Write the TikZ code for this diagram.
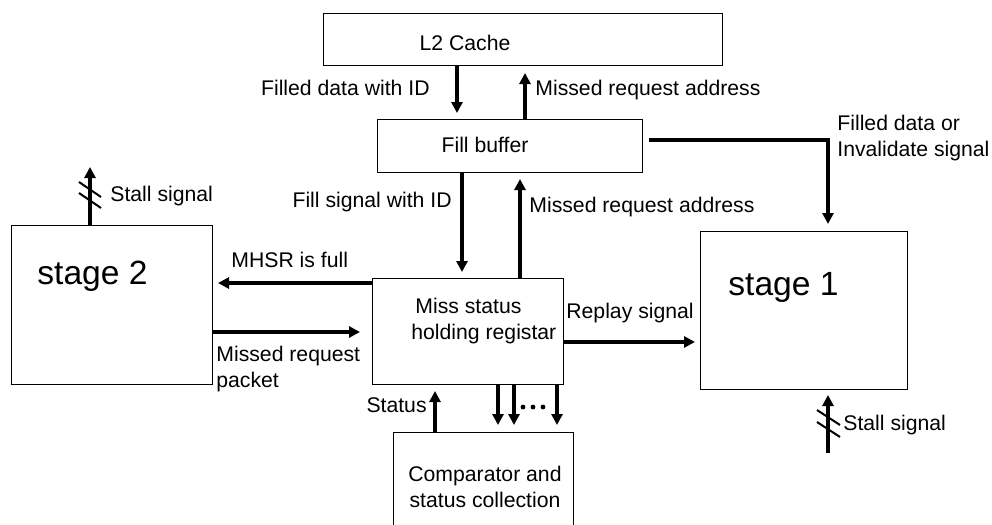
\documentclass[tikz,border=0pt]{standalone}
\usepackage{fontspec}
\setmainfont{Liberation Sans}
\usetikzlibrary{arrows.meta}
\begin{document}
\begin{tikzpicture}[x=0.5pt,y=-0.5pt,
  font=\fontsize{10.6}{13}\selectfont,
  blk/.style={draw, line width=0.5pt, inner sep=0pt, anchor=north west},
  txt/.style={inner sep=0pt},
  sig/.style={line width=1.6pt, -{Triangle[length=5.5pt,width=5.5pt]}},
  bus/.style={line width=1pt},
  bigtxt/.style={inner sep=0pt, font=\fontsize{16.8}{20}\selectfont}]
\clip (0,0) rectangle (992,525);
\useasboundingbox (0,0) rectangle (992,525);

% blocks
\node[blk, minimum width=199.5pt, minimum height=26pt] (l2) at (323,13) {};
\node[blk, minimum width=132.5pt, minimum height=26.5pt] (fb) at (377,119) {};
\node[blk, minimum width=100.5pt, minimum height=79.5pt] (s2) at (11,225) {};
\node[blk, minimum width=95.5pt, minimum height=53pt] (mshr) at (372,278) {};
\node[blk, minimum width=103.5pt, minimum height=79pt] (s1) at (700,231) {};
\node[blk, minimum width=90pt, minimum height=60pt] (cmp) at (393,432) {};

% block texts
\node[txt] (l2t) at (465,43) {L2 Cache};
\node[txt] (fbt) at (485,145) {Fill buffer};
\node[txt, anchor=west, align=left] (mshrt) at (411,321) {\hspace{2pt}Miss status\\holding registar};
\node[bigtxt, anchor=base west] (s2t) at (37,284) {stage 2};
\node[bigtxt, anchor=base west] (s1t) at (728,295) {stage 1};
\node[txt, align=center] (cmpt) at (485,487) {Comparator and\\status collection};

% L2 cache <-> fill buffer
\draw[sig, shorten >=6pt*0.5] (l2.south -| 457,0) -- (fb.north -| 457,0);
\draw[sig, shorten >=7pt*0.5] (fb.north -| 525,0) -- (l2.south -| 525,0);
\node[txt, anchor=mid east] (lfd) at (430,90) {Filled data with ID};
\node[txt, anchor=mid west] (lmr1) at (535,90) {Missed request address};

% fill buffer -> stage 1
\coordinate (fbc) at (828,140);
\draw[sig, shorten >=7pt*0.5] ([xshift=3pt]fb.east |- fbc) -- (fbc) -- (s1.north -| fbc);
\node[txt, anchor=west, align=left] (lfi) at (837,138) {Filled data or\\Invalidate signal};

% fill buffer <-> MSHR
\draw[sig, shorten >=6pt*0.5] (fb.south -| 462,0) -- (mshr.north -| 462,0);
\draw[sig, shorten >=6pt*0.5] (mshr.north -| 520,0) -- (fb.south -| 520,0);
\node[txt, anchor=mid east] (lfs) at (452,202) {Fill signal with ID};
\node[txt, anchor=mid west] (lmr2) at (529,207) {Missed request address};

% MSHR <-> stage 2
\draw[sig, shorten >=5pt*0.5] (mshr.west |- 0,283) -- (s2.east |- 0,283);
\draw[sig, shorten >=12pt*0.5] (s2.east |- 0,332) -- (mshr.west |- 0,332);
\node[txt, anchor=mid west] (lfull) at (231,262) {MHSR is full};
\node[txt, anchor=west, align=left] (lpkt) at (216,369) {Missed request\\packet};

% MSHR -> stage 1
\draw[sig, shorten >=5pt*0.5] (mshr.east |- 0,342) -- (s1.west |- 0,342);
\node[txt, anchor=mid west] (lrep) at (566,313) {Replay signal};

% MSHR <-> comparator
\draw[sig, shorten >=6pt*0.5] (cmp.north -| 435,0) -- (mshr.south -| 435,0);
\draw[sig, shorten >=7pt*0.5] (mshr.south -| 498,0) -- (cmp.north -| 498,0);
\draw[sig, shorten >=7pt*0.5] (mshr.south -| 514,0) -- (cmp.north -| 514,0);
\draw[sig, shorten >=7pt*0.5] (mshr.south -| 557,0) -- (cmp.north -| 557,0);
\foreach \dx in {523,533,543} \fill (\dx,407) circle (2.4);
\node[txt, anchor=mid east] (lst) at (427,407) {Status};

% stall signal of stage 2
\coordinate (st2) at (90,167);
\draw[sig] (s2.north -| st2) -- (st2);
\draw[bus] (79,182) -- (101,197);
\draw[bus] (79,193) -- (101,208);
\node[txt, anchor=mid west] (lst2) at (110,196) {Stall signal};

% stall signal of stage 1
\coordinate (st1a) at (828,453);
\coordinate (st1b) at (828,395);
\draw[sig] (st1a) -- (st1b);
\draw[bus] (817,410) -- (840,425);
\draw[bus] (817,422) -- (840,437);
\node[txt, anchor=mid west] (lst1) at (843,425) {Stall signal};
\end{tikzpicture}
\end{document}
